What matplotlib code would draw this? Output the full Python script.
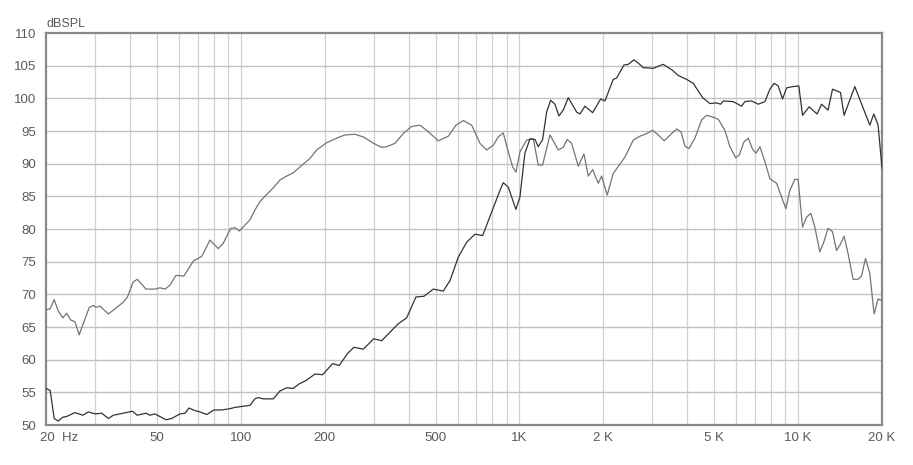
import numpy as np
import matplotlib
matplotlib.use('Agg')
import matplotlib.pyplot as plt
import matplotlib.transforms as mtransforms

# on-axis (dark) response, Hz / dB SPL
freq_a = [20, 20.7, 21.4, 22.1, 23.0, 23.7, 25.4, 27.1, 28.4, 30.0, 31.7, 33.5, 34.9, 36.8,
          40.9, 42.5, 45.7, 47.2, 49.2, 53.9, 56.5, 60.5, 63.1, 65.2, 68.5, 71.4, 75.5, 80.1,
          85.4, 91.5, 95.4, 107.9, 112.4, 115.5, 120.5, 130.8, 138.2, 146.1, 154.3, 162.1,
          171.4, 184.6, 196.7, 213.7, 225.6, 241.1, 254.7, 275.1, 300, 320.3, 343, 367.4,
          393.8, 425.2, 454.3, 490.6, 532.9, 563.2, 603.5, 646.9, 692.5, 738, 783.7, 851,
          875, 912, 971, 1004, 1046, 1091, 1137, 1168, 1211, 1252, 1294, 1341, 1386, 1436,
          1497, 1604, 1648, 1718, 1831, 1956, 2027, 2170, 2232, 2371, 2457, 2575, 2668, 2780,
          3020, 3280, 3515, 3714, 3980, 4203, 4544, 4825, 5100, 5272, 5386, 5848, 6269, 6442,
          6812, 7193, 7602, 7921, 8207, 8483, 8794, 9089, 9595, 10058, 10370, 10951, 11700,
          12134, 12810, 13286, 14194, 14623, 15975, 18084, 18690, 19366, 20000]
spl_a = [55.6, 55.3, 51.0, 50.6, 51.2, 51.3, 51.9, 51.5, 52.0, 51.7, 51.8, 51.0, 51.5, 51.7,
         52.1, 51.5, 51.8, 51.5, 51.7, 50.8, 51.0, 51.7, 51.8, 52.6, 52.2, 52.0, 51.6, 52.3,
         52.3, 52.5, 52.7, 53.0, 54.0, 54.2, 54.0, 54.0, 55.2, 55.7, 55.6, 56.3,
         56.8, 57.8, 57.7, 59.4, 59.1, 60.9, 61.9, 61.6, 63.2, 62.9, 64.2, 65.5,
         66.4, 69.6, 69.7, 70.8, 70.5, 72.1, 75.7, 78.0, 79.2, 79.0, 81.9, 85.9,
         87.1, 86.4, 83.0, 84.9, 91.6, 93.8, 93.7, 92.6, 93.7, 97.9, 99.7, 99.1, 97.3, 98.2,
         100.1, 97.9, 97.6, 98.8, 97.8, 99.9, 99.6, 102.9, 103.1, 105.1, 105.2, 105.9, 105.4, 104.7,
         104.6, 105.2, 104.4, 103.5, 102.9, 102.3, 100.1, 99.2, 99.3, 99.1, 99.6, 99.5, 98.8, 99.5,
         99.6, 99.1, 99.5, 101.4, 102.3, 101.9, 99.9, 101.6, 101.8, 101.9, 97.4, 98.7, 97.6,
         99.1, 98.2, 101.4, 100.9, 97.4, 101.8, 95.9, 97.6, 95.9, 89.3]

# second (grey) response
freq_b = [20, 20.7, 21.4, 22.1, 23.0, 23.7, 24.5, 25.4, 26.3, 27.2, 28.6, 29.6, 30.2, 31.2,
          33.5, 35.4, 37.9, 39.2, 41.1, 42.5, 45.7, 49.2, 51.3, 53.5, 55.7, 58.5, 62.5, 67.6,
          72.4, 77.5, 83.0, 86.5, 92.0, 95.4, 98.8, 107.9, 112.4, 117.2, 123.9, 130.8, 138.2,
          146.1, 154.3, 162.1, 177.1, 187.2, 203.3, 220.8, 236.5, 256.9, 275.1, 300, 320.3,
          333.7, 357.4, 382.8, 410.4, 439.5, 470.7, 511.3, 555.3, 592.1, 628.9, 673.9, 721.7,
          762.6, 805.3, 839.3, 874.7, 912, 945.4, 971.5, 1004, 1061, 1121, 1168, 1211, 1287,
          1378, 1436, 1484, 1539, 1626, 1704, 1766, 1831, 1917, 1972, 2065, 2170, 2391, 2561,
          2705, 2860, 3005, 3147, 3307, 3515, 3665, 3797, 3925, 4056, 4263, 4506, 4696, 4894,
          5168, 5462, 5691, 5970, 6146, 6389, 6622, 6868, 7058, 7295, 7602, 7921, 8372, 8722,
          9037, 9341, 9731, 10000, 10370, 10718, 11105, 11480, 11965, 12366, 12810, 13286,
          13733, 14112, 14623, 15115, 15751, 16414, 16884, 17452, 18084, 18734, 19366, 20000]
spl_b = [67.6, 67.8, 69.2, 67.5, 66.4, 67.1, 66.1, 65.8, 63.8, 65.5, 68.0, 68.3, 68.0, 68.2,
         67.0, 67.8, 68.8, 69.6, 71.9, 72.3, 70.8, 70.8, 71.0, 70.8, 71.4, 72.9, 72.8, 75.1,
         75.8, 78.3, 77.0, 77.8, 80.1, 80.2, 79.7, 81.4, 82.9, 84.2, 85.3, 86.3, 87.5,
         88.1, 88.6, 89.4, 90.8, 92.1, 93.2, 93.9, 94.4, 94.5, 94.1, 93.1, 92.5,
         92.6, 93.1, 94.6, 95.7, 95.9, 94.9, 93.5, 94.2, 95.9, 96.6, 95.9, 93.1,
         92.1, 92.8, 94.1, 94.7, 91.8, 89.5, 88.7, 91.8, 93.6, 93.8, 89.8, 89.8, 94.4,
         92.1, 92.5, 93.7, 93.1, 89.6, 91.5, 88.1, 89.1, 87.0, 88.1, 85.2, 88.5, 91.0, 93.6,
         94.2, 94.6, 95.1, 94.4, 93.5, 94.6, 95.3, 94.9, 92.7, 92.3, 93.9, 96.7, 97.4, 97.2,
         96.8, 95.1, 92.6, 90.9, 91.3, 93.3, 93.9, 92.2, 91.6, 92.6, 90.3, 87.7, 87.0, 84.9,
         83.1, 85.9, 87.6, 87.6, 80.3, 81.8, 82.4, 80.3, 76.5, 78.0, 80.1, 79.6,
         76.7, 77.5, 78.9, 76.2, 72.3, 72.3, 72.8, 75.5, 73.2, 67.0, 69.3, 69.0]

x_ticks = [20, 50, 100, 200, 500, 1000, 2000, 5000, 10000, 20000]
x_labels = ['20  Hz', '50', '100', '200', '500', '1K', '2 K', '5 K', '10 K', '20 K']
y_ticks = list(range(50, 111, 5))

plt.rcParams['font.family'] = ['Liberation Sans', 'DejaVu Sans']
txt = '#5a5a5a'

fig = plt.figure(figsize=(9.13, 4.65), dpi=100)
ax = fig.add_axes([46 / 913, 40 / 465, 836 / 913, 392 / 465])

# grid: every decade step in x, every 5 dB in y
grid_x = [m * 10 ** e for e in range(1, 5) for m in range(1, 10)]
grid_x = [g for g in grid_x if 20 < g < 20000]
for g in grid_x:
    ax.axvline(g, color='#d2d2d2', lw=0.9, zorder=1)
for g in y_ticks[1:-1]:
    ax.axhline(g, color='#c2c2c2', lw=1.0, zorder=1)

ax.plot(freq_b, spl_b, color='#747474', lw=0.9, zorder=3)
ax.plot(freq_a, spl_a, color='#333333', lw=0.9, zorder=4)

ax.set_xscale('log')
ax.set_xlim(20, 20000)
ax.set_ylim(50, 110)
ax.minorticks_off()
ax.set_xticks(x_ticks)
ax.set_xticklabels(x_labels)
ax.set_yticks(y_ticks)
ax.tick_params(length=0, labelsize=9.5, colors=txt)
ax.tick_params(axis='x', pad=5)
ax.tick_params(axis='y', pad=7)

first = ax.get_xticklabels()[0]
first.set_horizontalalignment('left')
first.set_transform(first.get_transform() + mtransforms.ScaledTranslation(-6 / 100, 0, fig.dpi_scale_trans))

for s in ax.spines.values():
    s.set_color('#8a8a8a')
    s.set_linewidth(1.6)

ax.text(0, 1.008, 'dBSPL', transform=ax.transAxes, ha='left', va='bottom',
        fontsize=9, color=txt)

fig.savefig('out.png', dpi=100)
